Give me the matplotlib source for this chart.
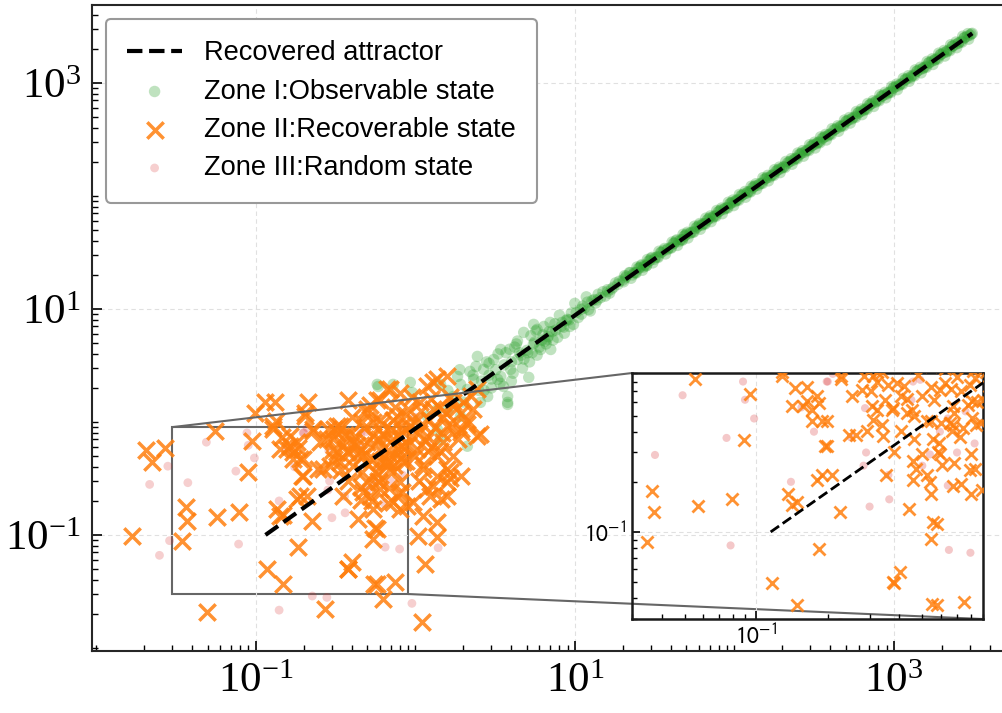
import numpy as np
import matplotlib
matplotlib.use("Agg")
import matplotlib.pyplot as plt
from matplotlib.ticker import FixedLocator, LogLocator, NullFormatter, LogFormatterSciNotation
from mpl_toolkits.axes_grid1.inset_locator import mark_inset

plt.rcParams['font.family'] = ['Liberation Sans', 'DejaVu Sans']
plt.rcParams['mathtext.fontset'] = 'stix'

# Zone II (recoverable) points
zone2_x = [0.0206, 0.0268, 0.0225, 0.0168, 0.0363, 0.0373, 0.0347, 0.0569, 0.079, 0.0552,
           0.0944, 0.089, 0.0492, 0.0986, 0.114, 0.132, 0.134, 0.128, 0.1355, 0.1416,
           0.117, 0.148, 0.184, 0.189, 0.209, 0.225, 0.195, 0.212, 0.203, 0.146,
           0.157, 0.184, 0.171, 0.198, 0.228, 0.245, 0.292, 0.379, 0.337, 0.305,
           0.352, 0.438, 0.402, 0.379, 0.272, 0.577, 0.667, 0.577, 0.544, 0.577,
           0.629, 0.748, 0.891, 1.107, 1.156, 1.044, 1.375, 1.12, 1.375, 1.24,
           1.59, 1.66, 1.59, 1.30, 2.45, 2.56, 1.92, 0.128, 0.203, 0.228,
           0.164, 0.1416, 0.171, 0.189, 0.181, 0.253, 0.284, 0.499, 0.464, 0.323,
           0.323, 0.373, 0.337, 0.407, 0.544, 0.264, 0.198, 0.181, 0.471, 0.521,
           0.451, 0.407, 0.499, 0.544, 0.585, 1.375, 0.697, 0.603, 0.805, 1.19,
           1.075, 1.30, 1.73, 1.92, 2.22, 2.12, 2.45, 1.92, 1.59, 1.50,
           1.73, 1.375, 1.19, 0.93, 0.77, 0.603, 0.499, 0.544, 0.727, 1.03,
           0.84, 0.667, 0.521, 1.12, 1.375, 1.59, 1.19, 1.44, 0.805, 0.603,
           0.499, 0.97, 0.727, 0.544, 1.92, 0.163, 0.28, 0.43, 0.341, 0.457,
           0.457, 0.538, 0.556, 0.555, 0.593, 0.673, 0.673, 0.794, 0.8, 0.81,
           0.72, 0.653, 0.46, 0.593, 0.794, 0.83, 0.81, 0.673, 0.306, 0.31,
           0.376, 0.39, 0.36, 0.43, 0.321, 0.31, 0.376, 0.55, 0.148, 1.59,
           1.30, 1.66, 0.7, 0.9, 1.1, 1.25, 0.85, 1.05, 0.62, 1.5,
           0.95, 1.2, 0.75, 1.7, 0.68, 0.88,
           0.35, 0.42, 0.48, 0.56, 0.62, 0.66, 0.72, 0.78, 0.82, 0.88,
           0.95, 1.0, 1.08, 1.15, 1.22, 1.32, 1.4, 1.48, 1.55, 1.65,
           1.8, 1.85, 2.0, 2.1, 2.3, 0.4, 0.52, 0.6, 0.74, 0.9,
           1.0, 1.12, 1.28, 1.42, 0.46, 0.58, 0.38, 0.68, 1.05, 0.83]
zone2_y = [0.57, 0.594, 0.438, 0.097, 0.175, 0.132, 0.0875, 0.143, 0.158, 0.824,
           0.672, 0.357, 0.0206, 1.21, 1.49, 1.49, 1.01, 0.859, 0.168, 0.146,
           0.0495, 0.0365, 0.079, 0.219, 0.219, 0.132, 0.33, 1.49, 1.12, 0.73,
           0.571, 0.594, 0.466, 0.466, 0.824, 0.38, 0.404, 1.58, 0.912, 0.70,
           0.219, 0.137, 0.0571, 0.0495, 0.0219, 1.58, 1.94, 0.112, 0.0912, 0.0365,
           0.0269, 0.038, 0.179, 0.0168, 0.0548, 0.097, 0.095, 0.146, 0.129, 0.219,
           0.292, 0.357, 2.53, 2.24, 1.94, 0.775, 0.807, 0.912, 1.21, 0.859,
           0.745, 0.571, 0.537, 0.466, 0.659, 0.659, 0.859, 1.21, 0.99, 0.912,
           0.537, 0.537, 0.438, 0.404, 0.99, 0.38, 0.33, 0.206, 0.238, 0.219,
           0.537, 0.659, 0.659, 0.466, 0.343, 2.38, 1.94, 1.58, 1.82, 2.06,
           1.49, 1.29, 1.49, 1.21, 1.68, 1.05, 0.745, 0.859, 0.912, 0.659,
           0.495, 0.495, 0.745, 0.912, 1.12, 1.05, 1.29, 0.745, 0.70, 0.571,
           0.438, 0.404, 0.466, 0.38, 0.33, 0.38, 0.253, 0.206, 0.292, 0.253,
           0.292, 0.194, 0.194, 0.168, 0.33, 0.61, 0.71, 0.52, 0.378, 0.268,
           0.204, 0.199, 0.115, 0.36, 0.292, 0.19, 0.44, 0.234, 0.169, 0.484,
           0.37, 0.45, 0.497, 0.713, 0.764, 0.838, 0.61, 0.57, 0.567, 0.473,
           0.554, 0.78, 0.764, 0.63, 0.80, 0.86, 0.0504, 0.037, 0.151, 0.219,
           0.27, 0.32, 0.85, 1.3, 0.95, 1.6, 0.6, 0.8, 0.78, 1.1,
           1.65, 0.55, 1.35, 0.9, 0.52, 0.45,
           0.62, 0.75, 0.88, 0.62, 0.95, 0.72, 1.05, 0.58, 0.92, 1.15,
           0.75, 1.0, 1.25, 0.68, 1.05, 0.88, 1.35, 0.8, 1.2, 1.65,
           1.3, 0.7, 1.5, 0.95, 1.3, 1.1, 1.4, 0.45, 0.42, 0.62,
           0.5, 0.42, 0.6, 0.55, 0.36, 0.3, 0.3, 0.26, 0.3, 0.24]

# Zone I (observable) points along the attractor
zone1_x = [0.585, 0.577, 0.727, 0.93, 0.957, 1.44, 1.84, 1.92, 2.45, 2.68,
           3.1, 3.43, 3.79, 5.14, 3.79, 2.56, 2.84, 2.12, 1.44, 1.375,
           5.52, 4.78, 4.37, 6.1, 7.06, 6.8, 8.2, 9.0, 10.9, 13.2,
           16.1, 18.6, 3.96, 5.06, 2.32, 2.12, 3.28, 3.57, 4.37, 1.375,
           1.73, 1.61, 1.19, 1.92, 3.79, 6.5, 7.5, 8.5, 9.5, 11,
           12, 13.5, 15, 16.5, 18, 5.8, 4.2, 3.0, 2.2, 7.8,
           10, 12.5, 14, 3.43, 2.9, 4.6, 5.5, 6.3, 7.2, 8.8,
           2.6, 3.2, 3.6, 4.0, 4.5, 5.0, 5.6, 6.2, 6.9, 7.6,
           8.3, 9.2, 10.2, 11.5, 12.8, 14.5, 16, 17.5, 19, 4.8,
           5.3, 6.6, 7.0, 9.8, 11.8, 2.4, 3.3, 2.7, 4.1, 5.8,
           1.6, 2.0, 2.3, 2.5, 2.8, 3.0, 3.4, 3.7, 4.0, 4.3,
           4.7, 5.2, 5.7, 6.0, 6.4, 7.3, 8.0, 8.6, 9.3, 10.5,
           11.2, 12.2, 13.8, 15.5, 17, 1.9, 2.9, 3.9, 5.4, 6.7,
           20, 22, 24, 26, 28, 30, 33, 36, 40, 43,
           47, 50, 55, 60, 65, 70, 76, 82, 90, 97,
           105, 115, 125, 135, 148, 160, 175, 190, 205, 225,
           245, 265, 290, 315, 340, 370, 400, 440, 480, 520,
           570, 620, 670, 730, 800, 870, 950, 1030, 1120, 1220,
           1330, 1450, 1580, 1720, 1870, 2040, 2220, 2420, 2640, 2880, 3100,
           21, 23, 25, 27, 29, 31.5, 34.5, 38, 41.5, 45,
           48.5, 52.5, 57.5, 62.5, 67.5, 73, 79, 86, 93.5, 101,
           110, 120, 130, 141, 154, 167, 182, 197, 215, 235,
           255, 277, 302, 327, 355, 385, 420, 460, 500, 545,
           595, 645, 700, 765, 835, 910, 990, 1075, 1170, 1275,
           1390, 1515, 1650, 1795, 1955, 2130, 2320, 2530, 2760, 3000,
           20.5, 22.5, 24.5, 26.5, 28.5, 30.8, 33.7, 37, 40.7, 44,
           47.7, 51.2, 56.2, 61.2, 66.2, 71.5, 77.5, 84, 91.7, 99,
           107.5, 117.5, 127.5, 138, 151, 163.5, 178.5, 193.5, 210, 230,
           250, 271, 296, 321, 347, 377, 410, 450, 490, 532,
           582, 632, 685, 747, 817, 890, 970, 1052, 1145, 1247,
           1360, 1482, 1615, 1757, 1912, 2085, 2270, 2475, 2700, 2940,
           20.8, 23.5, 25.5, 27.5, 29.5, 32, 35, 38.5, 42, 46,
           49, 53.5, 58.5, 63.5, 68.5, 74, 80.5, 87.5, 95, 103,
           112, 122, 132.5, 144, 157, 171, 186, 202, 220, 240,
           260, 283, 308, 334, 362, 393, 428, 466, 507, 552,
           602, 655, 712, 775, 845, 920, 1000, 1090, 1185, 1290,
           1405, 1530, 1665, 1810, 1970, 2145, 2335, 2545, 2770, 3050,
           20.2, 22.2, 24.2, 26.2, 28.2, 30.4, 33.3, 36.5, 40.2, 43.5,
           47.2, 50.7, 55.6, 60.6, 65.6, 70.8, 76.7, 83.2, 90.8, 98,
           106.5, 116.5, 126.2, 136.5, 150, 161.8, 176.7, 191.5, 208, 227.5,
           247.5, 268, 293, 318, 343.5, 373, 405, 445, 485, 526,
           576, 626, 678, 740, 808, 880, 960, 1041, 1133, 1234,
           1345, 1466, 1598, 1740, 1893, 2063, 2247, 2450, 2672, 2910]
zone1_y = [2.06, 2.15, 2.15, 2.24, 1.82, 2.15, 2.53, 2.15, 3.8, 2.92,
           3.57, 4.38, 1.49, 2.48, 1.68, 1.49, 1.68, 0.61, 0.70, 0.86,
           7.3, 6.2, 5.2, 4.38, 4.38, 5.7, 7.0, 8.1, 9.9, 12.1,
           14.3, 16.5, 2.92, 4.1, 2.38, 1.94, 2.38, 2.06, 3.57, 1.29,
           1.68, 1.29, 1.12, 1.12, 1.43, 5.2, 7.4, 6.9, 9.2, 9.0,
           11.5, 11.3, 14.2, 13.8, 17.0, 6.6, 4.6, 2.4, 2.8, 5.6,
           11.2, 9.6, 13.5, 2.53, 3.3, 3.9, 4.9, 5.9, 6.3, 7.9,
           2.3, 2.9, 3.2, 3.4, 4.1, 4.3, 5.1, 5.3, 6.3, 6.5,
           7.6, 8.0, 9.3, 10.2, 11.8, 12.6, 14.8, 15.6, 17.6, 3.6,
           5.8, 4.9, 7.6, 7.3, 12.8, 3.1, 4.0, 1.9, 2.7, 3.9,
           1.9, 1.5, 2.6, 1.9, 3.4, 2.0, 2.2, 4.1, 2.3, 4.9,
           3.0, 3.4, 6.4, 4.6, 7.0, 5.3, 8.8, 6.1, 7.0, 8.4,
           10.6, 9.9, 12.0, 13.0, 15.0, 2.9, 2.6, 4.4, 4.1, 5.4,
           18, 21, 21, 24, 24, 28, 29, 33, 35, 40,
           41, 46, 48, 55, 57, 64, 67, 75, 79, 88,
           93, 104, 110, 123, 130, 145, 155, 172, 182, 203,
           217, 240, 257, 285, 302, 335, 355, 398, 425, 470,
           505, 560, 595, 660, 710, 785, 840, 930, 990, 1100,
           1180, 1310, 1400, 1550, 1660, 1840, 1970, 2180, 2340, 2590, 2750,
           19.5, 20, 22.8, 23.5, 26.5, 27.5, 31.5, 33.5, 38, 39.5,
           44, 46.5, 52, 55, 61, 64, 72, 76, 85, 89,
           100, 106, 118, 124, 140, 147, 165, 175, 195, 208,
           232, 245, 275, 290, 322, 340, 382, 410, 455, 480,
           540, 570, 635, 675, 760, 800, 900, 945, 1060, 1120,
           1265, 1340, 1500, 1590, 1780, 1880, 2110, 2240, 2500, 2650,
           19.7, 18.7, 23.5, 22.0, 27.4, 25.6, 32.4, 30.7, 39.1, 36.5,
           45.8, 42.5, 54.0, 50.8, 63.6, 59.3, 74.4, 69.7, 88.0, 82.2,
           103, 97.5, 122, 115, 145, 136, 171, 161, 202, 191,
           240, 225, 284, 266, 333, 313, 394, 374, 470, 442,
           559, 525, 658, 620, 784, 739, 931, 873, 1099, 1035,
           1306, 1230, 1550, 1458, 1836, 1731, 2179, 2054, 2592, 2440,
           18.9, 20.9, 23.2, 24.5, 26.8, 28.5, 31.8, 34.3, 38.2, 41.0,
           44.6, 47.6, 53.2, 56.5, 62.3, 65.9, 73.3, 77.9, 86.5, 91.7,
           102, 109, 121, 128, 143, 152, 169, 180, 200, 214,
           237, 252, 280, 297, 329, 350, 389, 415, 461, 491,
           548, 583, 648, 690, 769, 819, 910, 970, 1078, 1148,
           1279, 1362, 1515, 1611, 1793, 1909, 2125, 2265, 2521, 2714,
           17.4, 20.9, 20.8, 24.6, 24.3, 28.6, 28.6, 34.3, 34.6, 40.9,
           40.6, 47.7, 47.8, 57.0, 56.4, 66.6, 66.0, 78.2, 78.1, 92.1,
           91.6, 109.5, 108.5, 128.3, 129, 152.1, 152, 180, 178.9, 213.9,
           212.9, 251.9, 252, 298.9, 295.4, 350.6, 348.3, 418.3, 417.1, 494.4,
           495.4, 588.4, 583.1, 695.6, 694.9, 827.2, 825.6, 978.5, 974.4, 1160,
           1157, 1378, 1374, 1636, 1628, 1939, 1932, 2303, 2298, 2735]

# Zone III (random) points
zone3_x = [0.0216, 0.0281, 0.049, 0.0375, 0.0288, 0.0249, 0.088, 0.0897, 0.098, 0.075,
           0.078, 0.14, 0.226, 0.279, 0.952, 0.647, 0.797, 1.39, 0.30, 0.363,
           0.14, 0.175, 0.155, 0.20, 0.287, 0.29, 0.283, 0.36, 0.25, 0.21,
           0.457, 0.49, 0.538, 0.5, 0.64, 0.64, 0.76, 0.593, 0.83, 0.198,
           0.45, 0.7, 0.9, 1.2, 1.0]
zone3_y = [0.28, 0.406, 0.662, 0.29, 0.089, 0.066, 0.80, 0.622, 0.48, 0.367,
           0.083, 0.0216, 0.0288, 0.028, 0.0248, 0.078, 0.075, 0.077, 0.142, 0.157,
           0.2, 0.40, 0.56, 0.80, 0.554, 0.30, 0.25, 0.22, 0.37, 0.89,
           0.80, 0.82, 0.292, 0.25, 0.48, 0.19, 0.53, 0.40, 0.34, 0.80,
           0.62, 0.3, 0.45, 0.7, 1.1]

# recovered attractor end points
attr_x = [0.115, 3100]
attr_y = [0.1, 2750]

main_lim = (0.0094, 4900)
zoom_lim = (0.03, 0.9)

c_green = '#2ca02c'
c_orange = '#ff7f0e'
c_pink = '#d62728'

fig = plt.figure(figsize=(10.02, 7.13), dpi=100)
ax = fig.add_axes([0.0918, 0.087, 0.9102, 0.906])

sc1 = ax.scatter(zone1_x, zone1_y, s=68, c=c_green, alpha=0.3, edgecolors='none', zorder=2,
                 label='Zone I:Observable state')
sc2 = ax.scatter(zone2_x, zone2_y, s=140, marker='x', c=c_orange, alpha=0.85, linewidths=2.5, zorder=3,
                 label='Zone II:Recoverable state')
sc3 = ax.scatter(zone3_x, zone3_y, s=40, c=c_pink, alpha=0.22, edgecolors='none', zorder=2.5,
                 label='Zone III:Random state')
ln, = ax.plot(attr_x, attr_y, '--', color='k', lw=3, zorder=4, label='Recovered attractor')

ax.set_xscale('log')
ax.set_yscale('log')
ax.set_xlim(*main_lim)
ax.set_ylim(*main_lim)
for axis in (ax.xaxis, ax.yaxis):
    axis.set_major_locator(FixedLocator([1e-1, 1e1, 1e3]))
    axis.set_major_formatter(LogFormatterSciNotation())
    axis.set_minor_locator(LogLocator(base=10, subs=np.arange(1, 10), numticks=60))
    axis.set_minor_formatter(NullFormatter())
ax.tick_params(which='both', direction='in', top=False, right=False)
ax.tick_params(which='major', length=7, width=1.2, labelsize=31, pad=8,
               labelfontfamily='Liberation Serif')
ax.tick_params(which='minor', length=4, width=1.0)
ax.grid(True, which='major', ls=(0, (4, 3)), lw=0.8, color='0.88')
for sp in ax.spines.values():
    sp.set_linewidth(1.5)
    sp.set_color('0.15')

leg = ax.legend(handles=[ln, sc1, sc2, sc3], loc='upper left', fontsize=19.6, fancybox=True,
                edgecolor='0.6', framealpha=1, borderpad=0.8, labelspacing=0.45)
leg.get_frame().set_linewidth(1.5)

# zoomed inset
axins = fig.add_axes([0.6307, 0.1318, 0.3503, 0.345])
axins.set_facecolor('none')
axins.scatter(zone1_x, zone1_y, s=30, c=c_green, alpha=0.3, edgecolors='none', zorder=2)
axins.scatter(zone2_x, zone2_y, s=75, marker='x', c=c_orange, alpha=0.85, linewidths=2, zorder=3)
axins.scatter(zone3_x, zone3_y, s=34, c=c_pink, alpha=0.25, edgecolors='none', zorder=2.5)
axins.plot(attr_x, attr_y, '--', color='k', lw=2, zorder=4)
axins.set_xscale('log')
axins.set_yscale('log')
axins.set_xlim(*zoom_lim)
axins.set_ylim(*zoom_lim)
for axis in (axins.xaxis, axins.yaxis):
    axis.set_major_locator(FixedLocator([1e-1]))
    axis.set_minor_locator(LogLocator(base=10, subs=np.arange(1, 10), numticks=60))
    axis.set_minor_formatter(NullFormatter())
axins.set_xticklabels([r'$10^{-1}$'], math_fontfamily='stixsans')
axins.set_yticklabels([r'$10^{-1}$'], math_fontfamily='stixsans')
axins.tick_params(which='both', direction='in', top=False, right=False)
axins.tick_params(which='major', length=6, width=1.2, labelsize=17, pad=4)
axins.tick_params(which='minor', length=3.5, width=1.0)
axins.grid(True, which='major', ls=(0, (4, 3)), lw=0.8, color='0.88')
for sp in axins.spines.values():
    sp.set_linewidth(1.8)
    sp.set_color('0.1')

mark_inset(ax, axins, loc1=2, loc2=4, fc='none', ec='0.4', lw=1.5)

fig.savefig('out.png', dpi=100)
